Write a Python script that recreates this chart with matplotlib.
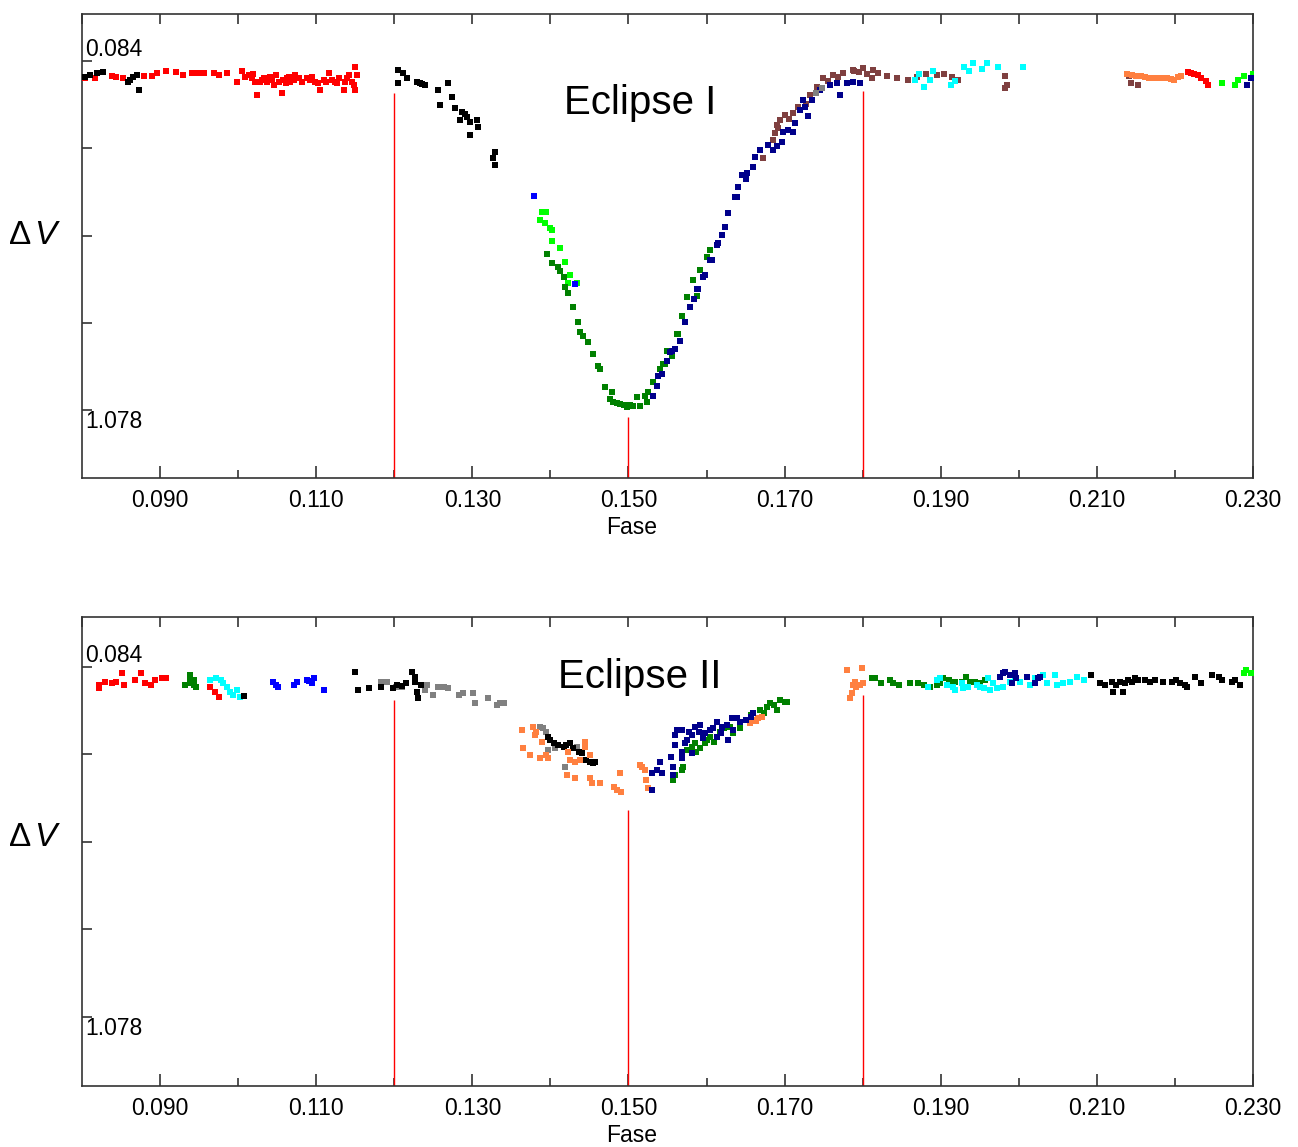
import matplotlib
matplotlib.use("Agg")
import matplotlib.pyplot as plt
from matplotlib import rcParams
from matplotlib.ticker import MultipleLocator, FixedLocator
import matplotlib.transforms as mtransforms

rcParams['font.family'] = ['Liberation Sans', 'DejaVu Sans']
rcParams['mathtext.fontset'] = 'custom'
rcParams['mathtext.rm'] = 'Liberation Sans'
rcParams['mathtext.it'] = 'Liberation Sans:italic'

# ---- colours used by the individual nights
C_RED = '#ff0000'
C_BLACK = '#000000'
C_LIME = '#00ff00'
C_GREEN = '#008000'
C_NAVY = '#00008b'
C_BLUE = '#0000ff'
C_BROWN = '#7f4040'
C_CYAN = '#00ffff'
C_ORANGE = '#ff8040'
C_GRAY = '#808080'

# ================= Eclipse I =================
e1_red_x = [0.0804, 0.0817, 0.0838, 0.0843, 0.0853, 0.0879, 0.0890, 0.0896, 0.0907, 0.0920,
            0.0930, 0.0941, 0.0949, 0.0956, 0.0969, 0.0975, 0.0986, 0.0999, 0.1005, 0.1009,
            0.1014, 0.1018, 0.1022, 0.1024, 0.1028, 0.1033, 0.1037, 0.1041, 0.1046, 0.1048,
            0.1052, 0.1056, 0.1058, 0.1063, 0.1067, 0.1073, 0.1078, 0.1082, 0.1088, 0.1095,
            0.1099, 0.1105, 0.1110, 0.1116, 0.1120, 0.1124, 0.1129, 0.1135, 0.1137, 0.1142,
            0.1146, 0.1150, 0.1150, 0.1152, 0.1030, 0.1044, 0.1061, 0.1071, 0.1092, 0.1102,
            0.1113, 0.1127, 0.1140, 0.1148, 0.1019, 0.1065]
e1_red_y = [0.133, 0.133, 0.127, 0.129, 0.133, 0.127, 0.127, 0.119, 0.112, 0.114,
            0.124, 0.119, 0.117, 0.117, 0.119, 0.124, 0.119, 0.143, 0.112, 0.129,
            0.124, 0.133, 0.143, 0.181, 0.143, 0.133, 0.143, 0.129, 0.152, 0.124,
            0.143, 0.176, 0.138, 0.133, 0.143, 0.124, 0.133, 0.143, 0.133, 0.129,
            0.143, 0.166, 0.138, 0.119, 0.138, 0.143, 0.133, 0.166, 0.143, 0.124,
            0.143, 0.100, 0.166, 0.124, 0.138, 0.138, 0.147, 0.138, 0.138, 0.147,
            0.143, 0.147, 0.133, 0.152, 0.120, 0.128]

e1_black_x = [0.0804, 0.0810, 0.0819, 0.0827, 0.0859, 0.0861, 0.0865, 0.0870, 0.0873,
              0.1205, 0.1211, 0.1216, 0.1205, 0.1233, 0.1239, 0.1256, 0.1269, 0.1274, 0.1259,
              0.1278, 0.1287, 0.1293, 0.1284, 0.1297, 0.1306, 0.1307, 0.1297, 0.1329, 0.1326,
              0.1329, 0.1229, 0.1236, 0.1290]
e1_black_y = [0.129, 0.124, 0.118, 0.115, 0.144, 0.138, 0.129, 0.124, 0.166,
              0.110, 0.118, 0.132, 0.146, 0.146, 0.152, 0.166, 0.146, 0.186, 0.209,
              0.217, 0.229, 0.243, 0.252, 0.257, 0.252, 0.271, 0.294, 0.342, 0.359,
              0.379, 0.143, 0.148, 0.236]

e1_blue_x = [0.1379, 0.1431]
e1_blue_y = [0.467, 0.720]

e1_lime_x = [0.1389, 0.1395, 0.1387, 0.1393, 0.1399, 0.1402, 0.1412, 0.1419, 0.1425, 0.1423,
             0.1434, 0.1402, 0.2260, 0.2277, 0.2281, 0.2288, 0.2300]
e1_lime_y = [0.513, 0.513, 0.536, 0.545, 0.558, 0.595, 0.615, 0.655, 0.692, 0.715,
             0.715, 0.564, 0.146, 0.152, 0.137, 0.127, 0.121]

e1_green_x = [0.1396, 0.1402, 0.1410, 0.1412, 0.1419, 0.1423, 0.1429, 0.1435, 0.1438, 0.1442,
              0.1448, 0.1455, 0.1461, 0.1464, 0.1470, 0.1479, 0.1480, 0.1489, 0.1498, 0.1506,
              0.1511, 0.1515, 0.1521, 0.1525, 0.1531, 0.1540, 0.1547, 0.1556, 0.1562, 0.1569,
              0.1575, 0.1583, 0.1592, 0.1601, 0.1604, 0.1588, 0.1563, 0.1549, 0.1544, 0.1524,
              0.1494, 0.1485, 0.1502, 0.1476, 0.1418]
e1_green_y = [0.632, 0.658, 0.669, 0.683, 0.726, 0.743, 0.785, 0.828, 0.856, 0.868,
              0.885, 0.919, 0.953, 0.962, 1.013, 1.027, 1.055, 1.061, 1.069, 1.067,
              1.041, 1.067, 1.038, 1.027, 0.998, 0.962, 0.947, 0.925, 0.862, 0.811,
              0.757, 0.706, 0.678, 0.641, 0.621, 0.754, 0.862, 0.910, 0.947, 1.055,
              1.064, 1.058, 1.062, 1.045, 0.700]

e1_navy_x = [0.1531, 0.1537, 0.1538, 0.1543, 0.1549, 0.1553, 0.1556, 0.1560, 0.1572, 0.1579,
             0.1588, 0.1589, 0.1595, 0.1598, 0.1604, 0.1607, 0.1613, 0.1615, 0.1624, 0.1627,
             0.1636, 0.1639, 0.1640, 0.1645, 0.1652, 0.1659, 0.1662, 0.1668, 0.1679, 0.1685,
             0.1697, 0.1698, 0.1704, 0.1711, 0.1713, 0.1720, 0.1724, 0.1726, 0.1735, 0.1745,
             0.1758, 0.1767, 0.1771, 0.1780, 0.1788, 0.1797, 0.1566, 0.1584, 0.1620, 0.1650,
             0.1690, 0.1730, 0.2292, 0.2297]
e1_navy_y = [1.038, 1.010, 0.981, 0.976, 0.939, 0.913, 0.910, 0.905, 0.828, 0.785,
             0.734, 0.734, 0.700, 0.692, 0.649, 0.649, 0.607, 0.601, 0.555, 0.516,
             0.470, 0.470, 0.442, 0.408, 0.402, 0.385, 0.357, 0.337, 0.323, 0.337,
             0.314, 0.286, 0.280, 0.286, 0.260, 0.223, 0.195, 0.215, 0.195, 0.166,
             0.152, 0.146, 0.181, 0.146, 0.144, 0.146, 0.880, 0.760, 0.580, 0.420,
             0.325, 0.240, 0.152, 0.132]

e1_brown_x = [0.1672, 0.1685, 0.1690, 0.1694, 0.1700, 0.1711, 0.1717, 0.1724, 0.1733, 0.1741,
              0.1749, 0.1762, 0.1775, 0.1788, 0.1800, 0.1813, 0.1789, 0.1812, 0.1831, 0.1844,
              0.1858, 0.1881, 0.1904, 0.1922, 0.1982, 0.1985, 0.1982, 0.2144, 0.2153, 0.2141,
              0.1688, 0.1692, 0.1705, 0.1727, 0.1756, 0.1768, 0.1795, 0.1805, 0.1820, 0.1870,
              0.1895, 0.1915]
e1_brown_y = [0.359, 0.308, 0.266, 0.252, 0.237, 0.232, 0.215, 0.195, 0.181, 0.158,
              0.132, 0.124, 0.118, 0.110, 0.104, 0.110, 0.111, 0.132, 0.127, 0.132,
              0.137, 0.121, 0.121, 0.137, 0.127, 0.152, 0.161, 0.146, 0.152, 0.127,
              0.290, 0.275, 0.250, 0.205, 0.140, 0.128, 0.115, 0.120, 0.118, 0.128,
              0.125, 0.130]

e1_gray_x = [0.1740, 0.1748]
e1_gray_y = [0.175, 0.160]

e1_cyan_x = [0.1867, 0.1872, 0.1879, 0.1886, 0.1890, 0.1913, 0.1918, 0.1930, 0.1936, 0.1941,
             0.1953, 0.1959, 0.1973, 0.2005]
e1_cyan_y = [0.137, 0.121, 0.158, 0.137, 0.111, 0.152, 0.141, 0.101, 0.111, 0.090,
             0.107, 0.090, 0.101, 0.101]

e1_orange_x = [0.2139, 0.2156, 0.2171, 0.2185, 0.2199, 0.2208, 0.2145, 0.2150, 0.2162, 0.2167,
               0.2176, 0.2180, 0.2190, 0.2195, 0.2204]
e1_orange_y = [0.121, 0.127, 0.132, 0.132, 0.137, 0.127, 0.124, 0.126, 0.130, 0.131,
               0.132, 0.133, 0.132, 0.135, 0.130]

e1_red2_x = [0.2217, 0.2224, 0.2233, 0.2240, 0.2242, 0.2220, 0.2229]
e1_red2_y = [0.115, 0.121, 0.132, 0.141, 0.152, 0.118, 0.124]

# ================= Eclipse II =================
e2_red_x = [0.0822, 0.0822, 0.0830, 0.0838, 0.0843, 0.0851, 0.0854, 0.0868, 0.0876, 0.0881,
            0.0889, 0.0894, 0.0902, 0.0908, 0.0964, 0.0970, 0.0975]
e2_red_y = [0.135, 0.144, 0.126, 0.130, 0.126, 0.102, 0.135, 0.121, 0.102, 0.130,
            0.135, 0.121, 0.116, 0.116, 0.140, 0.154, 0.170]

e2_green_x = [0.0938, 0.0938, 0.0932, 0.0940, 0.0943, 0.0946, 0.0943,
              0.1557, 0.1568, 0.1570, 0.1575, 0.1581, 0.1587, 0.1592, 0.1598, 0.1604, 0.1609,
              0.1617, 0.1622, 0.1630, 0.1634, 0.1643, 0.1651, 0.1657, 0.1668, 0.1673, 0.1677,
              0.1686, 0.1694, 0.1701, 0.1681, 0.1690, 0.1560, 0.1585, 0.1600, 0.1703,
              0.1812, 0.1816, 0.1824, 0.1835, 0.1839, 0.1846, 0.1861, 0.1871, 0.1878, 0.1886,
              0.1895, 0.1903, 0.1910, 0.1918, 0.1927, 0.1933, 0.1937, 0.1944, 0.1950, 0.1957,
              0.1899, 0.1916]
e2_green_y = [0.107, 0.121, 0.135, 0.130, 0.121, 0.140, 0.135,
              0.405, 0.377, 0.367, 0.320, 0.310, 0.325, 0.315, 0.301, 0.282, 0.296,
              0.268, 0.258, 0.254, 0.272, 0.258, 0.235, 0.220, 0.206, 0.216, 0.197,
              0.192, 0.178, 0.183, 0.187, 0.206, 0.390, 0.300, 0.290, 0.183,
              0.116, 0.116, 0.130, 0.121, 0.130, 0.135, 0.130, 0.130, 0.135, 0.140,
              0.135, 0.116, 0.121, 0.126, 0.126, 0.112, 0.126, 0.126, 0.130, 0.121,
              0.130, 0.135]

e2_cyan_x = [0.0964, 0.0972, 0.0978, 0.0981, 0.0986, 0.0989, 0.0994, 0.0999, 0.1002,
             0.1884, 0.1895, 0.1899, 0.1908, 0.1916, 0.1918, 0.1927, 0.1929, 0.1935, 0.1946,
             0.1950, 0.1955, 0.1961, 0.1963, 0.1967, 0.1972, 0.1980, 0.1989, 0.1995, 0.2001,
             0.2014, 0.2021, 0.2031, 0.2036, 0.2046, 0.2049, 0.2057, 0.2066, 0.2074, 0.2083]
e2_cyan_y = [0.121, 0.116, 0.121, 0.130, 0.140, 0.154, 0.164, 0.149, 0.168,
             0.140, 0.121, 0.116, 0.135, 0.140, 0.149, 0.130, 0.144, 0.140, 0.135,
             0.140, 0.144, 0.116, 0.149, 0.130, 0.144, 0.140, 0.126, 0.116, 0.126,
             0.135, 0.116, 0.107, 0.130, 0.107, 0.135, 0.130, 0.126, 0.112, 0.121]

e2_blue_x = [0.1045, 0.1051, 0.1072, 0.1075, 0.1088, 0.1094, 0.1097, 0.1110, 0.1048, 0.1091]
e2_blue_y = [0.126, 0.140, 0.135, 0.126, 0.121, 0.130, 0.116, 0.149, 0.135, 0.125]

e2_black_x = [0.1007,
              0.1150, 0.1153, 0.1167, 0.1183, 0.1199, 0.1204, 0.1223, 0.1226, 0.1229, 0.1231,
              0.1234, 0.1226, 0.1215, 0.1210,
              0.1397, 0.1404, 0.1410, 0.1417, 0.1425, 0.1429, 0.1436, 0.1440, 0.1446, 0.1451,
              0.1455, 0.1457, 0.1400, 0.1420,
              0.2093, 0.2104, 0.2110, 0.2119, 0.2121, 0.2125, 0.2130, 0.2134, 0.2136, 0.2140,
              0.2145, 0.2149, 0.2153, 0.2162, 0.2168, 0.2174, 0.2185, 0.2196, 0.2202, 0.2206,
              0.2213, 0.2215, 0.2226, 0.2234, 0.2247, 0.2256, 0.2260, 0.2273, 0.2277, 0.2283]
e2_black_y = [0.166,
              0.097, 0.149, 0.144, 0.140, 0.144, 0.135, 0.097, 0.126, 0.154, 0.173,
              0.135, 0.112, 0.130, 0.138,
              0.282, 0.301, 0.306, 0.310, 0.301, 0.315, 0.325, 0.329, 0.348, 0.353,
              0.358, 0.353, 0.290, 0.305,
              0.107, 0.130, 0.135, 0.126, 0.154, 0.135, 0.126, 0.154, 0.130, 0.121,
              0.126, 0.116, 0.121, 0.121, 0.126, 0.121, 0.126, 0.126, 0.121, 0.130,
              0.135, 0.140, 0.112, 0.130, 0.107, 0.112, 0.121, 0.126, 0.121, 0.135]

e2_gray_x = [0.1183, 0.1191, 0.1202, 0.1210, 0.1215, 0.1239, 0.1242, 0.1250, 0.1256, 0.1264,
             0.1269, 0.1283, 0.1288, 0.1301, 0.1304, 0.1320, 0.1331, 0.1336,
             0.1340, 0.1387, 0.1391, 0.1397, 0.1406, 0.1419, 0.1434, 0.1395]
e2_gray_y = [0.126, 0.126, 0.140, 0.140, 0.130, 0.149, 0.135, 0.164, 0.140, 0.140,
             0.144, 0.164, 0.159, 0.159, 0.187, 0.173, 0.192, 0.187,
             0.187, 0.254, 0.258, 0.320, 0.315, 0.367, 0.310, 0.270]

e2_orange_x = [0.1363, 0.1378, 0.1380, 0.1382, 0.1389, 0.1365, 0.1374, 0.1387, 0.1395, 0.1397,
               0.1421, 0.1431, 0.1444, 0.1444, 0.1423, 0.1425, 0.1431, 0.1438, 0.1451, 0.1451,
               0.1453, 0.1464, 0.1481, 0.1485, 0.1489, 0.1491, 0.1515, 0.1521, 0.1523, 0.1525,
               0.1517, 0.1656, 0.1660, 0.1666, 0.1671, 0.1663,
               0.1780, 0.1799, 0.1797, 0.1790, 0.1786, 0.1784, 0.1792, 0.1801, 0.1788]
e2_orange_y = [0.263, 0.254, 0.277, 0.268, 0.296, 0.315, 0.334, 0.343, 0.334, 0.343,
               0.391, 0.400, 0.296, 0.310, 0.325, 0.348, 0.353, 0.348, 0.334, 0.400,
               0.414, 0.414, 0.424, 0.433, 0.386, 0.438, 0.362, 0.377, 0.405, 0.428,
               0.367, 0.244, 0.235, 0.230, 0.225, 0.238,
               0.093, 0.088, 0.135, 0.126, 0.159, 0.173, 0.140, 0.130, 0.135]

e2_navy_x = [0.1530, 0.1530, 0.1536, 0.1540, 0.1543, 0.1557, 0.1555, 0.1560, 0.1560, 0.1562,
             0.1568, 0.1575, 0.1577, 0.1581, 0.1585, 0.1592, 0.1596, 0.1598, 0.1604, 0.1613,
             0.1619, 0.1626, 0.1628, 0.1632, 0.1634, 0.1643, 0.1651, 0.1657, 0.1660, 0.1568,
             0.1581, 0.1557, 0.1568, 0.1613, 0.1639, 0.1572, 0.1590, 0.1620, 0.1608,
             0.1976, 0.1980, 0.1982, 0.1989, 0.1991, 0.1995, 0.1997, 0.2010, 0.2021, 0.2025,
             0.2027]
e2_navy_y = [0.433, 0.386, 0.377, 0.353, 0.386, 0.367, 0.339, 0.306, 0.277, 0.263,
             0.263, 0.291, 0.268, 0.277, 0.254, 0.249, 0.287, 0.272, 0.263, 0.239,
             0.272, 0.249, 0.291, 0.230, 0.263, 0.239, 0.235, 0.225, 0.216, 0.325,
             0.329, 0.391, 0.343, 0.282, 0.230, 0.300, 0.270, 0.255, 0.258,
             0.112, 0.102, 0.097, 0.107, 0.130, 0.102, 0.116, 0.112, 0.130, 0.116,
             0.112]

e2_lime_x = [0.2288, 0.2291, 0.2298]
e2_lime_y = [0.102, 0.093, 0.100]

# contact phases marked by red lines, and where each line starts
contact_phase = [0.120, 0.150, 0.180]
e1_line_top = [0.175, 1.098, 0.170]
e2_line_top = [0.178, 0.490, 0.164]

xticks_major = [0.090, 0.110, 0.130, 0.150, 0.170, 0.190, 0.210, 0.230]
y_first, y_last = 0.084, 1.078

e1_series = [
    (e1_red_x, e1_red_y, C_RED), (e1_black_x, e1_black_y, C_BLACK),
    (e1_lime_x, e1_lime_y, C_LIME), (e1_green_x, e1_green_y, C_GREEN),
    (e1_brown_x, e1_brown_y, C_BROWN), (e1_navy_x, e1_navy_y, C_NAVY),
    (e1_gray_x, e1_gray_y, C_GRAY), (e1_blue_x, e1_blue_y, C_BLUE),
    (e1_cyan_x, e1_cyan_y, C_CYAN), (e1_orange_x, e1_orange_y, C_ORANGE),
    (e1_red2_x, e1_red2_y, C_RED),
]
e2_series = [
    (e2_red_x, e2_red_y, C_RED), (e2_green_x, e2_green_y, C_GREEN),
    (e2_cyan_x, e2_cyan_y, C_CYAN), (e2_blue_x, e2_blue_y, C_BLUE),
    (e2_gray_x, e2_gray_y, C_GRAY), (e2_black_x, e2_black_y, C_BLACK),
    (e2_orange_x, e2_orange_y, C_ORANGE), (e2_navy_x, e2_navy_y, C_NAVY),
    (e2_lime_x, e2_lime_y, C_LIME),
]


def draw_panel(ax, series, line_top, ylim, title, title_y):
    ax.set_xlim(0.080, 0.230)
    ax.set_ylim(*ylim)  # inverted: ylim = (bottom, top)
    for xs, ys, col in series:
        ax.scatter(xs, ys, s=21, marker='s', color=col, linewidths=0, zorder=3)
    ax.vlines(contact_phase, line_top, ylim[0], colors='#ff0000', linewidth=1.0, zorder=2)

    ax.xaxis.set_major_locator(FixedLocator(xticks_major))
    ax.xaxis.set_minor_locator(FixedLocator([0.100, 0.120, 0.140, 0.160, 0.180, 0.200, 0.220]))
    ax.set_xticklabels([f"{t:.3f}" for t in xticks_major])
    ax.tick_params(axis='x', which='major', direction='in', length=9, width=1.2,
                   labelsize=16.5, pad=8, color='#333333', bottom=True, top=False)
    ax.tick_params(axis='x', which='minor', direction='in', length=6, width=1.2,
                   color='#333333', bottom=True, top=False)
    # top ticks: every 0.01, all equal
    sec = ax.secondary_xaxis('top')
    sec.xaxis.set_major_locator(MultipleLocator(0.010))
    sec.tick_params(direction='in', length=7, width=1.2, labeltop=False, color='#333333')
    sec.spines['top'].set_visible(False)

    yt = [y_first + i * (y_last - y_first) / 4 for i in range(5)]
    ax.set_yticks(yt)
    ax.set_yticklabels([])
    ax.tick_params(axis='y', direction='in', length=7, width=1.2, color='#333333')
    for sp in ax.spines.values():
        sp.set_linewidth(1.2)
        sp.set_color('#333333')

    tr = mtransforms.blended_transform_factory(ax.transAxes, ax.transData)
    ax.text(0.003, y_first, '0.084', transform=tr, fontsize=16.5, ha='left', va='bottom')
    ax.text(0.003, y_last, '1.078', transform=tr, fontsize=16.5, ha='left', va='top')
    ax.text(0.1515, title_y, title, fontsize=29, ha='center', va='center', zorder=4)


fig = plt.figure(figsize=(12.98, 11.47), dpi=100)
ax1 = fig.add_axes([82 / 1298, 1 - 478 / 1147, 1171 / 1298, 464 / 1147])
ax2 = fig.add_axes([82 / 1298, 1 - 1086 / 1147, 1171 / 1298, 469 / 1147])

draw_panel(ax1, e1_series, e1_line_top, (1.271, -0.050), 'Eclipse I', 0.203)
draw_panel(ax2, e2_series, e2_line_top, (1.274, -0.058), 'Eclipse II', 0.112)

fig.text(35 / 1298, 1 - 235 / 1147, r'$\Delta\,V$', fontsize=24, ha='center', va='center')
fig.text(35 / 1298, 1 - 838 / 1147, r'$\Delta\,V$', fontsize=24, ha='center', va='center')
fig.text(632 / 1298, 1 - 528 / 1147, 'Fase', fontsize=16.5, ha='center', va='center')
fig.text(632 / 1298, 1 - 1135 / 1147, 'Fase', fontsize=16.5, ha='center', va='center')

fig.savefig('out.png', dpi=100)
